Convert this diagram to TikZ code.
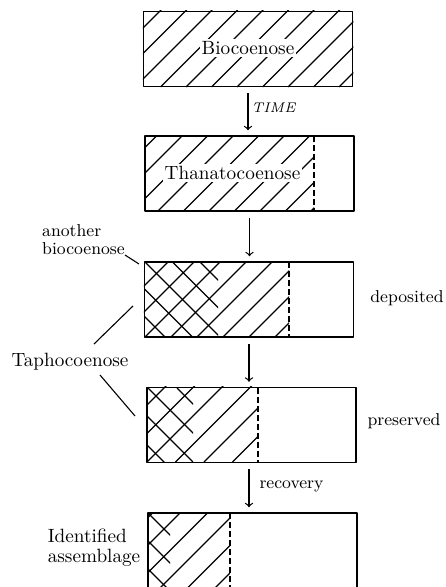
\documentclass[tikz,border=0pt]{standalone}
\usetikzlibrary{arrows}
\tikzset{
  box/.style={draw,line width=0.75pt,minimum width=104.5pt,minimum height=37.5pt,inner sep=0pt},
  hatch/.style={line width=0.55pt},
  cut/.style={line width=0.65pt,dash pattern=on 3pt off 1.5pt},
  biglbl/.style={font=\fontsize{9.6}{10}\selectfont,inner sep=1pt},
  smalllbl/.style={font=\fontsize{8.6}{8.7}\selectfont,inner sep=1pt},
  flow/.style={->,line width=0.6pt,shorten >=2.5pt,shorten <=3pt},
  leader/.style={line width=0.55pt}
}
\begin{document}
\begin{tikzpicture}[line join=round,>=to,x=0.5pt,y=-0.5pt]
  \clip (0,0) rectangle (445,587);
  % boxes
  \node[box] (bio) at (248,49) {};
  \node[box] (thana) at (249.5,173.5) {};
  \node[box] (depo) at (249,299.5) {};
  \node[box] (pres) at (251.5,425) {};
  \node[box] (ident) at (252.5,550.5) {};
  % hatching
  \begin{scope}
    \clip (bio.north west) rectangle (bio.south east);
    \foreach \k in {-4,...,9} \draw[hatch] ({160.5+\k*25.5},87) -- ++(80,-80);
  \end{scope}
  \begin{scope}
    \clip (thana.north west) rectangle (314,211);
    \foreach \k in {-4,...,8} \draw[hatch] ({158+\k*25.5},211) -- ++(80,-80);
  \end{scope}
  \draw[cut] (314,136) -- (314,211);
  \begin{scope}
    \clip (depo.north west) rectangle (289,337);
    \foreach \k in {-4,...,6} \draw[hatch] ({145+\k*26},337) -- ++(80,-80);
    \clip (144,262) rectangle (218,337);
    \foreach \k in {-4,...,3} \draw[hatch] ({145+\k*27.5},262) -- ++(80,80);
  \end{scope}
  \draw[cut] (289,262) -- (289,337);
  \begin{scope}
    \clip (pres.north west) rectangle (258,462);
    \foreach \k in {-4,...,5} \draw[hatch] ({147+\k*28.5},462) -- ++(80,-80);
    \clip (147,388) rectangle (193,462);
    \foreach \k in {-4,...,2} \draw[hatch] ({148+\k*29},388) -- ++(80,80);
  \end{scope}
  \draw[cut] (258,388) -- (258,462);
  \begin{scope}
    \clip (ident.north west) rectangle (230,590);
    \foreach \k in {-4,...,4} \draw[hatch] ({160+\k*27.5},588) -- ++(80,-80);
    \clip (148,513) rectangle (170,590);
    \foreach \k in {-4,...,1} \draw[hatch] ({148+\k*28},513) -- ++(80,80);
  \end{scope}
  \draw[cut] (230,513) -- (230,590);
  % texts in boxes
  \node[biglbl,fill=white] (biot) at (248,48) {Biocoenose};
  \node[biglbl,fill=white] (thanat) at (232.5,173) {Thanatocoenose};
  % flow arrows
  \draw[flow] (bio.south) -- (bio.south |- thana.north);
  \draw[flow] (thana.south) -- (thana.south |- depo.north);
  \draw[flow] (depo.south) -- (depo.south |- pres.north);
  \draw[flow] (pres.south -| depo.south) -- (depo.south |- ident.north);
  \node[inner sep=0pt,font=\fontsize{7}{7}\selectfont\itshape] (time) at (273.5,108) {TIME};
  \node[smalllbl] (rec) at (291.5,486) {recovery};
  % side labels
  \node[smalllbl,align=left] (other) at (83.5,239.5) {another\\biocoenose};
  \node[smalllbl] (dep) at (407,298) {deposited};
  \node[smalllbl] (prs) at (404,421) {preserved};
  \node[biglbl] (taph) at (70,362) {Taphocoenose};
  \node[biglbl,align=left,font=\fontsize{9.6}{10}\selectfont] (idt) at (94,548) {Identified\\assemblage};
  % leaders
  \coordinate (o1) at (125,255);
  \coordinate (o2) at (139,264);
  \coordinate (t1) at (94,344);
  \coordinate (t2) at (133,306);
  \coordinate (t3) at (100,375);
  \coordinate (t4) at (135,416);
  \draw[leader] (o1) -- (o2);
  \draw[leader] (t1) -- (t2);
  \draw[leader] (t3) -- (t4);
\end{tikzpicture}
\end{document}
